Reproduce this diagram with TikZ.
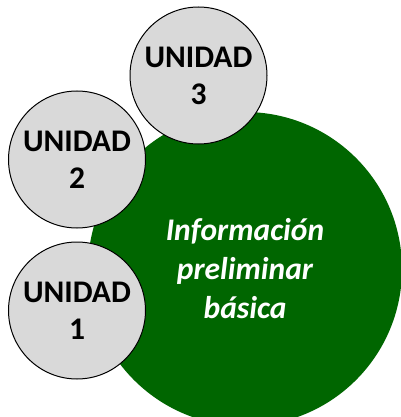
\documentclass[tikz,border=0pt]{standalone}
\usepackage{fontspec}
\setmainfont{Carlito}
\definecolor{darkgreen}{HTML}{006600}
\definecolor{unitgray}{HTML}{D9D9D9}
\begin{document}
\begin{tikzpicture}[
	x=1pt,
	y=-1pt,
	unit/.style={circle,draw=black,line width=1pt,fill=unitgray,minimum size=137pt,inner sep=0pt,align=center,font=\fontsize{31.5}{37}\selectfont\bfseries},
	core/.style={circle,fill=darkgreen,minimum size=314pt,inner sep=0pt,align=center,text=white,font=\fontsize{31.5}{39}\selectfont\bfseries\itshape}
	]
	\useasboundingbox (0,0) rectangle (400,417);
	\node[core] (info) at (245,269) {Información\\preliminar\\básica};
	\begin{scope}
		\node[unit] (u3) at (198.5,75.5) {UNIDAD\\3};
		\node[unit] (u2) at (77,159.5) {UNIDAD\\2};
		\node[unit] (u1) at (77,310.5) {UNIDAD\\1};
	\end{scope}
\end{tikzpicture}
\end{document}
